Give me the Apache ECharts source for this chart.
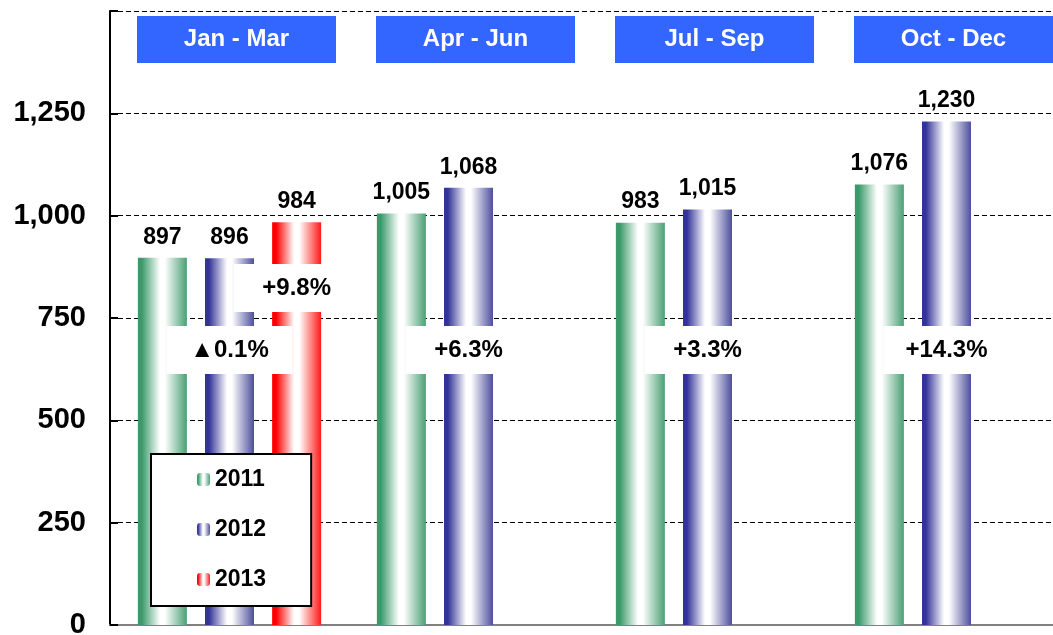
<!DOCTYPE html>
<html>
<head>
<meta charset="utf-8">
<script src="https://cdn.jsdelivr.net/npm/echarts@6/dist/echarts.min.js"></script>
<style>
  html, body { margin: 0; padding: 0; background: #fff; }
</style>
</head>
<body>
<!-- chart container -->
<div id="main" style="width: 1053px;height:635px;"></div>
<script>
// data
const quarters = ['Jan - Mar', 'Apr - Jun', 'Jul - Sep', 'Oct - Dec']
const years = ['2011', '2012', '2013']
const sales2011 = [897, 1005, 983, 1076]
const sales2012 = [896, 1068, 1015, 1230]
const sales2013 = [984, null, null, null]
const growth2012 = ['▲0.1%', '+6.3%', '+3.3%', '+14.3%']
const growth2013 = ['+9.8%', null, null, null]
const yTicks = [0, 250, 500, 750, 1000, 1250]

const FONT = '"Liberation Sans", Arial, "DejaVu Sans", sans-serif'

function barFill(c, c2) {
  return new echarts.graphic.LinearGradient(0, 0, 1, 0, [
    { offset: 0, color: c },
    { offset: 0.08, color: c },
    { offset: 0.45, color: '#ffffff' },
    { offset: 0.55, color: '#ffffff' },
    { offset: 1, color: c2 }
  ])
}

// growth boxes sit on the bars of the later year
function growthMarks(list, y) {
  const out = []
  list.forEach((g, i) => {
    if (g) out.push({ name: g, coord: [i, y] })
  })
  return out
}

const markStyle = {
  symbol: 'rect',
  symbolSize: [126, 48],
  itemStyle: { color: '#ffffff' },
  label: {
    show: true,
    position: 'inside',
    formatter: '{b}',
    color: '#000',
    fontSize: 24,
    fontWeight: 'bold',
    fontFamily: FONT
  },
  emphasis: { disabled: true }
}

const topLabel = {
  show: true,
  position: 'top',
  distance: 9,
  color: '#000',
  fontSize: 23,
  fontWeight: 'bold',
  fontFamily: FONT,
  formatter: p => p.value.toLocaleString('en-US')
}

const chart = echarts.init(document.getElementById('main'))

const option = {
  animation: false,
  grid: { left: 110, top: 11, width: 956, bottom: 10, outerBoundsMode: 'none' },
  legend: {
    data: years,
    orient: 'vertical',
    left: 151,
    top: 454,
    padding: [14, 45, 15, 46],
    itemWidth: 13,
    itemHeight: 13,
    itemGap: 27,
    backgroundColor: '#fff',
    borderColor: '#000',
    borderWidth: 2,
    textStyle: { color: '#000', fontSize: 23, lineHeight: 22, fontWeight: 'bold', fontFamily: FONT }
  },
  xAxis: [
    {
      type: 'category',
      data: quarters,
      axisLine: { show: true, lineStyle: { color: '#808080', width: 2 } },
      axisTick: { show: false },
      axisLabel: { show: false }
    },
    {
      type: 'category',
      data: quarters,
      position: 'top',
      axisLine: { show: false },
      axisTick: { show: false },
      axisLabel: {
        inside: true,
        margin: 5,
        padding: [0, 0, 0, 14],
        align: 'center',
        verticalAlign: 'top',
        formatter: v => '{box|' + v + '}',
        rich: {
          box: {
            color: '#fff',
            fontSize: 24,
            fontWeight: 'bold',
            fontFamily: FONT,
            backgroundColor: '#3366ff',
            width: 199,
            height: 47,
            lineHeight: 47,
            align: 'center'
          }
        }
      }
    }
  ],
  yAxis: {
    type: 'value',
    min: 0,
    max: 1500,
    interval: 250,
    axisLine: { show: true, lineStyle: { color: '#000', width: 2 } },
    axisTick: { show: true, inside: true, length: 8, lineStyle: { color: '#000', width: 2 } },
    axisLabel: {
      margin: 24,
      color: '#000',
      fontSize: 29,
      fontWeight: 'bold',
      fontFamily: FONT,
      formatter: v => (yTicks.indexOf(v) >= 0 ? v.toLocaleString('en-US') : '')
    },
    splitLine: { show: true, lineStyle: { color: '#000', width: 1, type: [5, 3] } }
  },
  series: [
    {
      name: years[0],
      type: 'bar',
      data: sales2011,
      barWidth: 49,
      barGap: '37%',
      itemStyle: { color: barFill('#3a9a6a', '#4a9f74') },
      label: topLabel
    },
    {
      name: years[1],
      type: 'bar',
      data: sales2012,
      barWidth: 49,
      barGap: '37%',
      itemStyle: { color: barFill('#333399', '#4d4f9c') },
      label: topLabel,
      markPoint: Object.assign({ data: growthMarks(growth2012, 672) }, markStyle)
    },
    {
      name: years[2],
      type: 'bar',
      data: sales2013,
      barWidth: 49,
      barGap: '37%',
      itemStyle: { color: barFill('#ff0000', '#ff1a1a') },
      label: topLabel,
      markPoint: Object.assign({ data: growthMarks(growth2013, 823) }, markStyle)
    }
  ]
}

chart.setOption(option)
</script>
</body>
</html>
